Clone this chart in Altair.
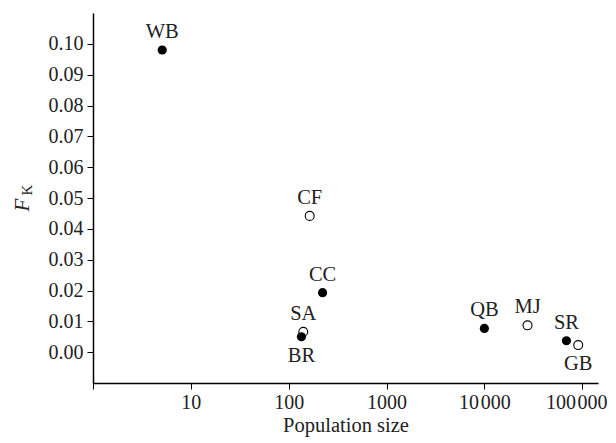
import altair as alt
import pandas as pd

names = ["WB", "CF", "CC", "SA", "BR", "QB", "MJ", "SR", "GB"]
pop_size = [5.1, 164, 222, 141, 135, 10000, 27600, 69000, 91000]
fk = [0.098, 0.0442, 0.0193, 0.0066, 0.0050, 0.0077, 0.0087, 0.0037, 0.0023]
filled = [True, False, True, False, True, True, False, True, False]
labels_below = ["BR", "GB"]

x_ticks = [1, 10, 100, 1000, 10000, 100000]
y_ticks = [0.00, 0.01, 0.02, 0.03, 0.04, 0.05, 0.06, 0.07, 0.08, 0.09, 0.10]

df = pd.DataFrame({"name": names, "pop": pop_size, "fk": fk, "filled": filled})
df["below"] = df["name"].isin(labels_below)

FONT = "Liberation Serif"

x_enc = alt.X(
    "pop:Q",
    scale=alt.Scale(type="log", domain=[1, 145000]),
    axis=alt.Axis(
        title="Population size",
        values=x_ticks,
        labelExpr="datum.value == 1 ? '' : (datum.value >= 10000 ? replace(format(datum.value, ','), ',', '\u200a') : format(datum.value, 'd'))",
        labelOffset={"condition": {"test": "datum.value >= 100000", "value": -6}, "value": 0},
        labelPadding=3,
        titlePadding=3,
    ),
)
y_enc = alt.Y(
    "fk:Q",
    scale=alt.Scale(domain=[-0.01, 0.11], nice=False, zero=False),
    axis=alt.Axis(title=None, values=y_ticks, format=".2f"),
)

base = alt.Chart(df).encode(x=x_enc, y=y_enc)

filled_pts = base.transform_filter("datum.filled").mark_point(
    filled=True, color="black", size=85, opacity=1
)
open_pts = base.transform_filter("!datum.filled").mark_point(
    filled=False, fill="white", stroke="black", strokeWidth=1.1, size=80, opacity=1
)
lab_above = base.transform_filter("!datum.below").mark_text(
    font=FONT, fontSize=20.5, color="#222", baseline="middle", dy=-18
).encode(text="name:N")
lab_below = base.transform_filter("datum.below").mark_text(
    font=FONT, fontSize=20.5, color="#222", baseline="middle", dy=19
).encode(text="name:N")

one = alt.Data(values=[{"a": 1}])
f_title = alt.Chart(one).mark_text(
    text="F", font=FONT, fontSize=21, fontStyle="italic", angle=270, color="#222",
    baseline="middle", align="center"
).encode(x=alt.value(-70), y=alt.value(192))
k_title = alt.Chart(one).mark_text(
    text="K", font=FONT, fontSize=15, angle=270, color="#222",
    baseline="middle", align="center"
).encode(x=alt.value(-66), y=alt.value(177))

chart = alt.layer(open_pts, filled_pts, lab_above, lab_below, f_title, k_title).properties(
    width=505,
    height=370,
    autosize=alt.AutoSizeParams(type="none"),
    padding={"left": 85, "top": 5, "right": 10, "bottom": 59},
).configure_view(stroke=None).configure_axis(
    grid=False,
    domainColor="black",
    domainWidth=1.5,
    tickColor="black",
    tickWidth=1,
    tickSize=6,
    labelPadding=4,
    labelFont=FONT,
    labelFontSize=20,
    labelColor="#222",
    titleFont=FONT,
    titleFontSize=20.5,
    titleFontWeight="normal",
    titleColor="#222",
)

chart.save("out.html", embed_options={"renderer": "svg", "actions": False})
